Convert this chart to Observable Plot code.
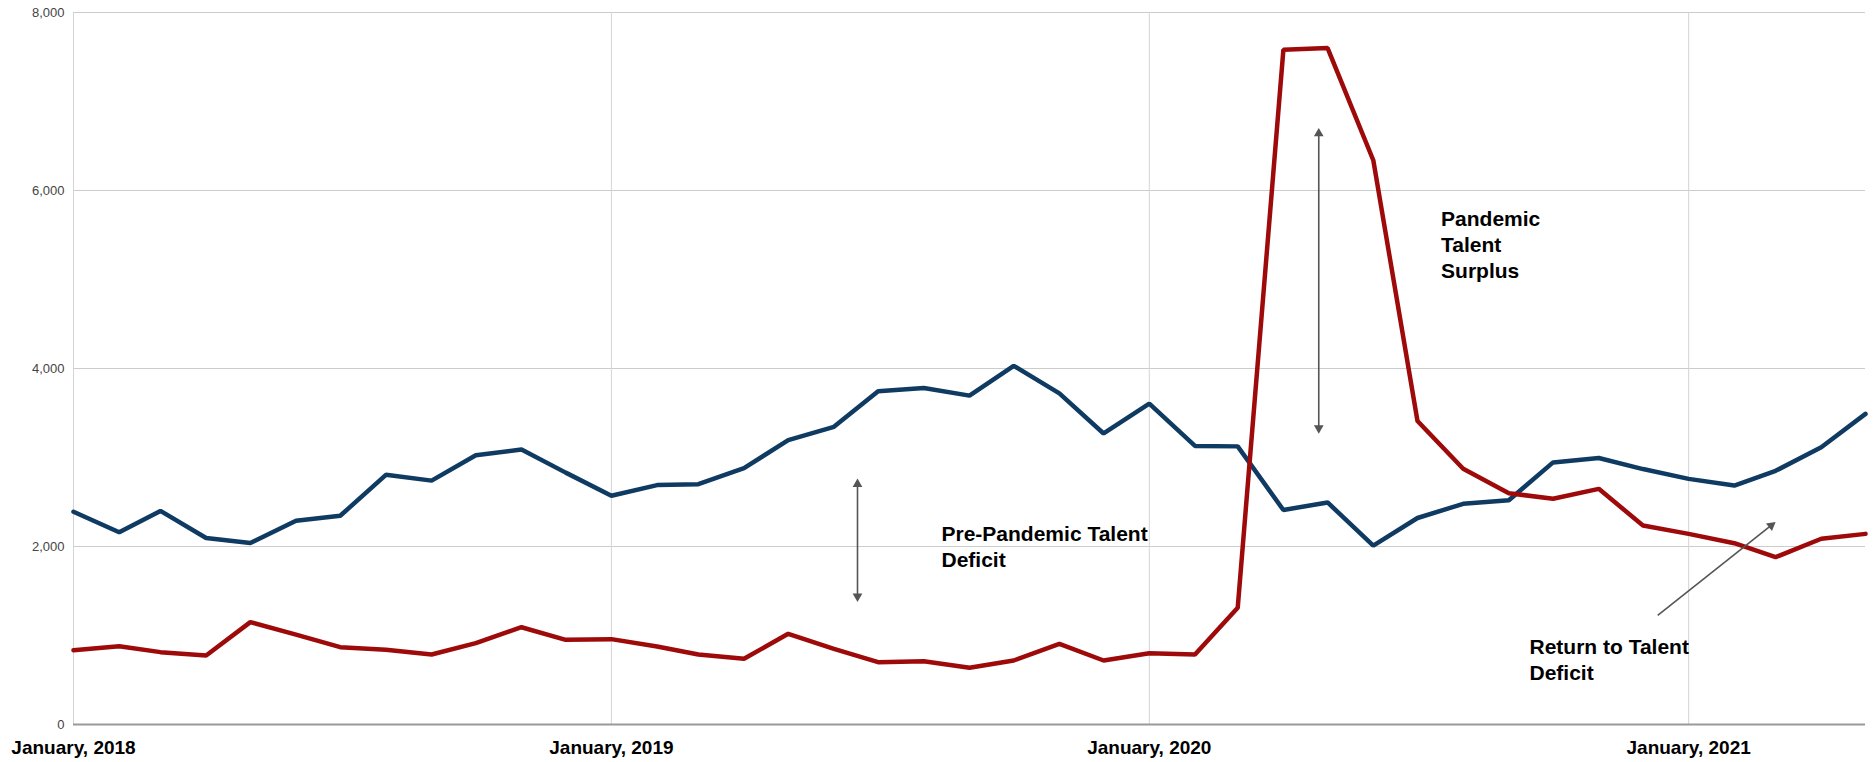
<!DOCTYPE html>
<html>
<head>
<meta charset="utf-8">
<script src="https://cdn.jsdelivr.net/npm/d3@7"></script>
<script src="https://cdn.jsdelivr.net/npm/@observablehq/plot@0.6"></script>
<style>
  html, body { margin: 0; padding: 0; background: #ffffff; }
  #chart svg { display: block; }
</style>
</head>
<body>
<div id="chart"></div>
<script>
// Months (categories)
const months = [
  "2018-01","2018-02","2018-03","2018-04","2018-05","2018-06","2018-07","2018-08","2018-09","2018-10","2018-11","2018-12",
  "2019-01","2019-02","2019-03","2019-04","2019-05","2019-06","2019-07","2019-08","2019-09","2019-10","2019-11","2019-12",
  "2020-01","2020-02","2020-03","2020-04","2020-05","2020-06","2020-07","2020-08","2020-09","2020-10","2020-11","2020-12",
  "2021-01","2021-02","2021-03","2021-04","2021-05"
];
// Blue series
const blueValues = [
  2390, 2160, 2400, 2095, 2040, 2290, 2345, 2805, 2740, 3025, 3090, 2830,
  2570, 2690, 2700, 2880, 3195, 3345, 3745, 3780, 3695, 4030, 3720, 3270,
  3605, 3130, 3125, 2410, 2495, 2010, 2320, 2480, 2520, 2945, 2995, 2870,
  2760, 2685, 2850, 3115, 3490
];
// Red series
const redValues = [
  835, 880, 813, 775, 1150, 1010, 869, 839, 787, 914, 1093, 951,
  959, 876, 787, 738, 1019, 850, 700, 711, 637, 719, 906, 719,
  801, 787, 1311, 7581, 7600, 6340, 3410, 2873, 2599, 2536, 2648, 2236,
  2142, 2037, 1880, 2087, 2142
];
// Axis ticks
const yTicks = [0, 2000, 4000, 6000, 8000];
const xTicks = ["2018-01-01", "2019-01-01", "2020-01-01", "2021-01-01"];

// Annotations
const noteText = ["Pre-Pandemic Talent\nDeficit", "Pandemic\nTalent\nSurplus", "Return to Talent\nDeficit"];
const noteX = ["2019-08-13", "2020-07-17", "2020-09-15"];
const noteY = [2275, 5810, 1005];

// Arrows (shaft from start to end)
const arrowX1 = ["2019-06-17", "2020-04-25", "2020-12-11"];
const arrowY1 = [1440, 3330, 1225];
const arrowX2 = ["2019-06-17", "2020-04-25", "2021-02-26"];
const arrowY2 = [2700, 6640, 2236];
// Arrow heads
const headX = ["2019-06-17", "2019-06-17", "2020-04-25", "2020-04-25", "2021-02-26"];
const headY = [2700, 1440, 6640, 3330, 2236];
const headAngle = [0, 180, 0, 180, 52];

const parse = d3.utcParse("%Y-%m");
const parseDay = d3.utcParse("%Y-%m-%d");

const blueData = months.map((m, i) => ({date: parse(m), value: blueValues[i]}));
const redData = months.map((m, i) => ({date: parse(m), value: redValues[i]}));
const notes = noteText.map((t, i) => ({text: t, x: parseDay(noteX[i]), y: noteY[i]}));
const arrows = arrowX1.map((d, i) => ({x1: parseDay(d), y1: arrowY1[i], x2: parseDay(arrowX2[i]), y2: arrowY2[i]}));
const heads = headX.map((d, i) => ({x: parseDay(d), y: headY[i], a: headAngle[i]}));

const chart = Plot.plot({
  width: 1874,
  height: 762,
  marginLeft: 73,
  marginRight: 9,
  marginTop: 12,
  marginBottom: 38,
  style: {fontFamily: "'Liberation Sans', Arial, sans-serif", background: "#ffffff"},
  x: {type: "utc", domain: [parse(months[0]), parse(months[months.length - 1])]},
  y: {domain: [0, 8000]},
  marks: [
    Plot.gridY(yTicks, {stroke: "#cccccc", strokeOpacity: 1, strokeWidth: 1}),
    Plot.gridX(xTicks.map(parseDay), {stroke: "#d4d4d4", strokeOpacity: 1, strokeWidth: 1}),
    Plot.ruleY([0], {stroke: "#999999", strokeWidth: 2}),
    Plot.axisY(yTicks, {tickSize: 0, tickPadding: 9, fontSize: 13, fill: "#444444", tickFormat: d3.format(","), label: null}),
    Plot.axisX(xTicks.map(parseDay), {tickSize: 0, tickPadding: 16, fontSize: 19, fontWeight: "bold", fill: "#000000", tickFormat: d3.utcFormat("%B, %Y"), label: null}),
    Plot.line(blueData, {x: "date", y: "value", stroke: "#0f3b63", strokeWidth: 4.5, strokeLinejoin: "miter"}),
    Plot.line(redData, {x: "date", y: "value", stroke: "#9e0a0a", strokeWidth: 4.5, strokeLinejoin: "miter"}),
    Plot.link(arrows, {x1: "x1", y1: "y1", x2: "x2", y2: "y2", stroke: "#555555", strokeWidth: 1.6}),
    Plot.dot(heads, {x: "x", y: "y", symbol: "triangle", r: 3.6, fill: "#555555", stroke: "none", rotate: "a"}),
    Plot.text(notes, {x: "x", y: "y", text: "text", textAnchor: "start", lineAnchor: "top", fontSize: 21, fontWeight: "bold", lineHeight: 1.24, fill: "#000000"})
  ]
});
document.getElementById("chart").appendChild(chart);
</script>
</body>
</html>
